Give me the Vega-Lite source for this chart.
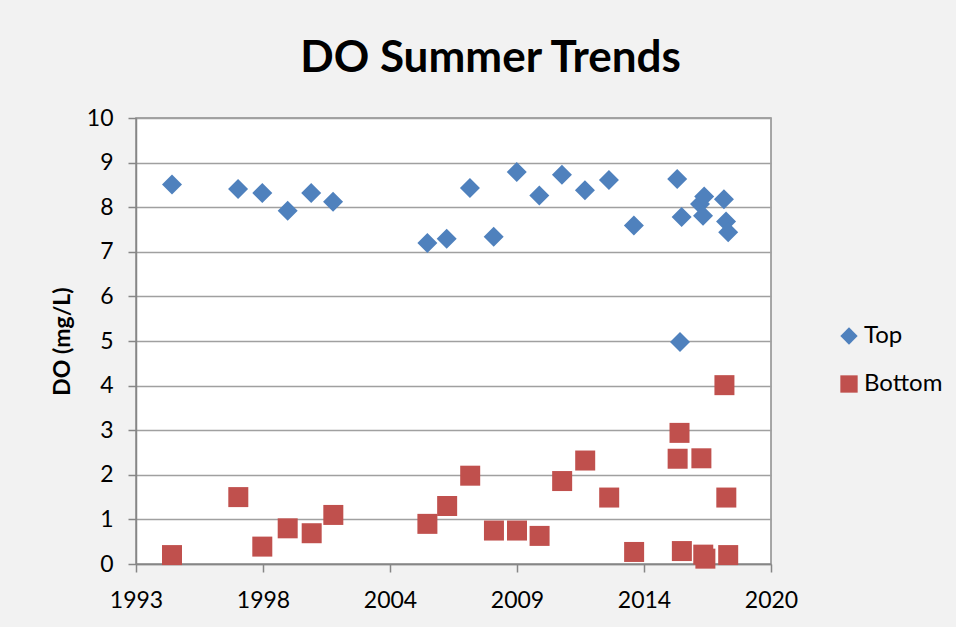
{
  "$schema": "https://vega.github.io/schema/vega-lite/v6.json",
  "width": 635,
  "height": 446,
  "autosize": {"type": "none"},
  "padding": {"left": 136, "top": 118, "right": 185, "bottom": 63},
  "background": "#F2F2F2",
  "title": {
    "text": "DO Summer Trends",
    "font": "Lato",
    "fontSize": 44,
    "fontWeight": "bold",
    "color": "#000000",
    "anchor": "middle",
    "baseline": "alphabetic",
    "dx": 37,
    "dy": 55,
    "offset": 46
  },
  "data": {
    "values": [
      {"Year": 1994.53, "DO": 8.51, "Series": "Top"},
      {"Year": 1997.34, "DO": 8.41, "Series": "Top"},
      {"Year": 1998.37, "DO": 8.32, "Series": "Top"},
      {"Year": 1999.45, "DO": 7.92, "Series": "Top"},
      {"Year": 2000.45, "DO": 8.32, "Series": "Top"},
      {"Year": 2001.38, "DO": 8.12, "Series": "Top"},
      {"Year": 2005.39, "DO": 7.20, "Series": "Top"},
      {"Year": 2006.21, "DO": 7.29, "Series": "Top"},
      {"Year": 2007.20, "DO": 8.43, "Series": "Top"},
      {"Year": 2008.21, "DO": 7.34, "Series": "Top"},
      {"Year": 2009.19, "DO": 8.79, "Series": "Top"},
      {"Year": 2010.15, "DO": 8.26, "Series": "Top"},
      {"Year": 2011.11, "DO": 8.73, "Series": "Top"},
      {"Year": 2012.09, "DO": 8.38, "Series": "Top"},
      {"Year": 2013.11, "DO": 8.61, "Series": "Top"},
      {"Year": 2014.17, "DO": 7.59, "Series": "Top"},
      {"Year": 2016.01, "DO": 8.63, "Series": "Top"},
      {"Year": 2016.20, "DO": 7.78, "Series": "Top"},
      {"Year": 2016.13, "DO": 4.98, "Series": "Top"},
      {"Year": 2016.98, "DO": 8.07, "Series": "Top"},
      {"Year": 2017.11, "DO": 7.81, "Series": "Top"},
      {"Year": 2017.16, "DO": 8.24, "Series": "Top"},
      {"Year": 2018.00, "DO": 8.18, "Series": "Top"},
      {"Year": 2018.09, "DO": 7.68, "Series": "Top"},
      {"Year": 2018.18, "DO": 7.44, "Series": "Top"},
      {"Year": 1994.53, "DO": 0.20, "Series": "Bottom"},
      {"Year": 1997.35, "DO": 1.50, "Series": "Bottom"},
      {"Year": 1998.37, "DO": 0.39, "Series": "Bottom"},
      {"Year": 1999.45, "DO": 0.80, "Series": "Bottom"},
      {"Year": 2000.47, "DO": 0.69, "Series": "Bottom"},
      {"Year": 2001.39, "DO": 1.10, "Series": "Bottom"},
      {"Year": 2005.39, "DO": 0.90, "Series": "Bottom"},
      {"Year": 2006.23, "DO": 1.30, "Series": "Bottom"},
      {"Year": 2007.21, "DO": 1.98, "Series": "Bottom"},
      {"Year": 2008.22, "DO": 0.75, "Series": "Bottom"},
      {"Year": 2009.20, "DO": 0.75, "Series": "Bottom"},
      {"Year": 2010.16, "DO": 0.63, "Series": "Bottom"},
      {"Year": 2011.12, "DO": 1.86, "Series": "Bottom"},
      {"Year": 2012.10, "DO": 2.32, "Series": "Bottom"},
      {"Year": 2013.12, "DO": 1.49, "Series": "Bottom"},
      {"Year": 2014.18, "DO": 0.27, "Series": "Bottom"},
      {"Year": 2016.11, "DO": 2.94, "Series": "Bottom"},
      {"Year": 2016.03, "DO": 2.36, "Series": "Bottom"},
      {"Year": 2016.21, "DO": 0.29, "Series": "Bottom"},
      {"Year": 2017.04, "DO": 2.37, "Series": "Bottom"},
      {"Year": 2017.12, "DO": 0.21, "Series": "Bottom"},
      {"Year": 2017.21, "DO": 0.12, "Series": "Bottom"},
      {"Year": 2018.02, "DO": 4.01, "Series": "Bottom"},
      {"Year": 2018.10, "DO": 1.49, "Series": "Bottom"},
      {"Year": 2018.18, "DO": 0.20, "Series": "Bottom"}
    ]
  },
  "mark": {"type": "point", "filled": true, "opacity": 1, "size": 400, "strokeWidth": 0},
  "encoding": {
    "x": {
      "field": "Year",
      "type": "quantitative",
      "scale": {"domain": [1993, 2020], "nice": false, "zero": false},
      "axis": {
        "title": null,
        "grid": false,
        "values": [1993, 1998.4, 2003.8, 2009.2, 2014.6, 2020],
        "labelExpr": "datum.value < 1995 ? '1993' : datum.value < 2001 ? '1998' : datum.value < 2006 ? '2004' : datum.value < 2012 ? '2009' : datum.value < 2017 ? '2014' : '2020'",
        "labelPadding": 17,
        "labelFlush": false,
        "labelOverlap": false
      }
    },
    "y": {
      "field": "DO",
      "type": "quantitative",
      "scale": {"domain": [0, 10], "nice": false},
      "axis": {
        "title": "DO (mg/L)",
        "values": [0, 1, 2, 3, 4, 5, 6, 7, 8, 9, 10],
        "grid": true,
        "labelPadding": 15,
        "titleX": -74,
        "titleY": 223,
        "titleAngle": -90,
        "titleAlign": "center",
        "titleBaseline": "middle",
        "titleFont": "Lato",
        "titleFontSize": 23,
        "titleFontWeight": "bold",
        "titleColor": "#000000"
      }
    },
    "shape": {
      "field": "Series",
      "type": "nominal",
      "scale": {"domain": ["Top", "Bottom"], "range": ["diamond", "square"]},
      "legend": null
    },
    "color": {
      "field": "Series",
      "type": "nominal",
      "scale": {"domain": ["Top", "Bottom"], "range": ["#4F81BD", "#C0504D"]},
      "legend": {
        "title": null,
        "orient": "none",
        "legendX": 701,
        "legendY": 206,
        "padding": 0,
        "symbolSize": 300,
        "symbolType": "diamond",
        "labelFont": "Lato",
        "labelFontSize": 24,
        "labelColor": "#000000",
        "labelOffset": 3,
        "rowPadding": 24,
        "symbolStrokeWidth": 0
      }
    }
  },
  "config": {
    "view": {"fill": "#FFFFFF", "stroke": "#8C8C8C", "strokeWidth": 1.5},
    "axis": {
      "domainColor": "#868686",
      "domainWidth": 1.5,
      "tickColor": "#868686",
      "tickWidth": 1.5,
      "tickSize": 8,
      "gridColor": "#A0A0A0",
      "gridWidth": 1.5,
      "labelFont": "Lato",
      "labelFontSize": 23,
      "labelColor": "#000000"
    }
  }
}
